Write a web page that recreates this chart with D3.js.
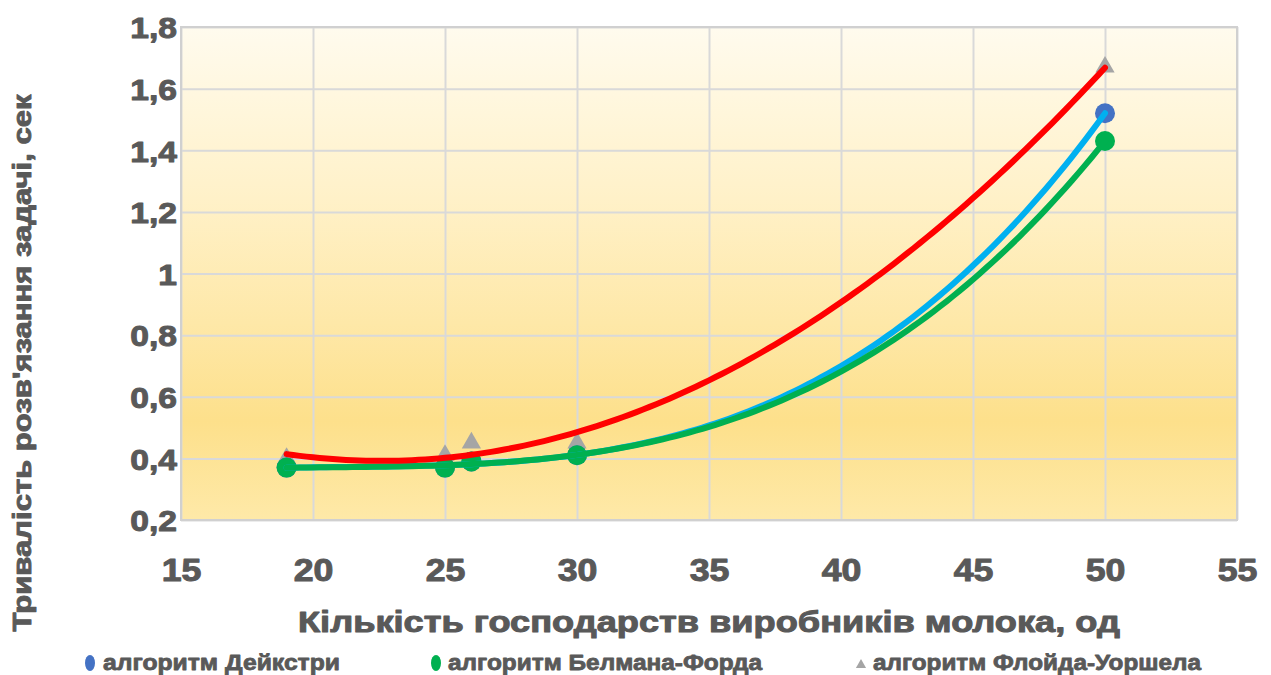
<!DOCTYPE html>
<html>
<head>
<meta charset="utf-8">
<script src="https://cdn.jsdelivr.net/npm/d3@7"></script>
<style>
  html, body { margin: 0; padding: 0; background: #ffffff; }
  svg { display: block; font-family: "Liberation Sans", Arial, sans-serif; }
</style>
</head>
<body>
<svg id="chart" width="1271" height="675"></svg>
<script>
// Number of dairy farms (x) and task solving time in seconds for each algorithm
const farmCounts = [19, 25, 26, 30, 50];
const dijkstraTimes = [0.37, 0.37, 0.39, 0.41, 1.52];
const bellmanFordTimes = [0.37, 0.37, 0.39, 0.41, 1.43];
const floydWarshallTimes = [0.40, 0.41, 0.45, 0.45, 1.67];

const seriesNames = ["алгоритм Дейкстри", "алгоритм Белмана-Форда", "алгоритм Флойда-Уоршела"];
const xTicks = [15, 20, 25, 30, 35, 40, 45, 50, 55];
const yTicks = [0.2, 0.4, 0.6, 0.8, 1.0, 1.2, 1.4, 1.6, 1.8];
const xTitle = "Кількість господарств виробників молока, од";
const yTitle = "Тривалість розв'язання задачі, сек";

const svg = d3.select("#chart");
const plot = { left: 181, right: 1237, top: 27, bottom: 520 };
const textColor = "#595959";

const x = d3.scaleLinear().domain([15, 55]).range([plot.left, plot.right]);
const y = d3.scaleLinear().domain([0.2, 1.8]).range([plot.bottom, plot.top]);

const ukr = d3.formatLocale({ decimal: ",", thousands: " ", grouping: [3], currency: ["", ""] });
const fmt = ukr.format(".1~f");

// Least-squares polynomial trendline
function polyFit(xs, ys, order) {
  const cx = 30, sx = 10;
  const n = order + 1;
  const A = Array.from({ length: n }, () => new Array(n + 1).fill(0));
  xs.forEach((xv, i) => {
    const t = (xv - cx) / sx;
    for (let r = 0; r < n; r++) {
      for (let c = 0; c < n; c++) A[r][c] += Math.pow(t, r + c);
      A[r][n] += ys[i] * Math.pow(t, r);
    }
  });
  for (let p = 0; p < n; p++) {
    let best = p;
    for (let r = p + 1; r < n; r++) if (Math.abs(A[r][p]) > Math.abs(A[best][p])) best = r;
    [A[p], A[best]] = [A[best], A[p]];
    for (let r = 0; r < n; r++) {
      if (r === p) continue;
      const f = A[r][p] / A[p][p];
      for (let c = p; c <= n; c++) A[r][c] -= f * A[p][c];
    }
  }
  const coef = A.map((row, i) => row[n] / row[i]);
  return xv => {
    const t = (xv - cx) / sx;
    return coef.reduce((s, c, i) => s + c * Math.pow(t, i), 0);
  };
}

// Heavy bold text style
function heavy(sel, size, strokeW) {
  return sel.attr("font-size", size).attr("font-weight", "bold")
    .attr("fill", textColor).attr("stroke", textColor).attr("stroke-width", strokeW)
    .attr("stroke-linejoin", "round")
    .attr("font-family", "Liberation Sans, Arial, sans-serif");
}

// Background gradient of the plot area
const defs = svg.append("defs");
const grad = defs.append("linearGradient").attr("id", "bg").attr("x1", 0).attr("y1", 0).attr("x2", 0).attr("y2", 1);
[[0, "#fffbee"], [0.35, "#fff1c8"], [0.6, "#fee8a8"], [0.8, "#fde08b"], [1, "#fee9a8"]]
  .forEach(([o, c]) => grad.append("stop").attr("offset", o).attr("stop-color", c));

svg.append("rect")
  .attr("x", plot.left).attr("y", plot.top)
  .attr("width", plot.right - plot.left).attr("height", plot.bottom - plot.top)
  .attr("fill", "url(#bg)");

// Gridlines
svg.append("g")
  .attr("transform", `translate(0,${plot.bottom})`)
  .call(d3.axisBottom(x).tickValues(xTicks).tickSize(-(plot.bottom - plot.top)).tickFormat(""))
  .call(g => g.select(".domain").remove())
  .call(g => g.selectAll("line").attr("stroke", "#d9d9d9").attr("stroke-width", 2));
svg.append("g")
  .attr("transform", `translate(${plot.left},0)`)
  .call(d3.axisLeft(y).tickValues(yTicks).tickSize(-(plot.right - plot.left)).tickFormat(""))
  .call(g => g.select(".domain").remove())
  .call(g => g.selectAll("line").attr("stroke", "#d9d9d9").attr("stroke-width", 2));

svg.append("rect")
  .attr("x", plot.left).attr("y", plot.top)
  .attr("width", plot.right - plot.left).attr("height", plot.bottom - plot.top)
  .attr("fill", "none").attr("stroke", "#d0d0d0").attr("stroke-width", 2);

// Tick labels
const xAxis = svg.append("g")
  .attr("transform", `translate(0,${plot.bottom})`)
  .call(d3.axisBottom(x).tickValues(xTicks).tickSize(0).tickFormat(d3.format("d")));
xAxis.select(".domain").remove();
heavy(xAxis.selectAll("text"), 31, 1).attr("dy", 0).attr("y", 61);

const yAxis = svg.append("g")
  .attr("transform", `translate(${plot.left},0)`)
  .call(d3.axisLeft(y).tickValues(yTicks).tickSize(0).tickPadding(4).tickFormat(fmt));
yAxis.select(".domain").remove();
heavy(yAxis.selectAll("text"), 30, 1).attr("dy", "0.36em");

// Widen glyphs horizontally
function widen(sel, k) {
  sel.each(function () {
    const w = this.getComputedTextLength();
    d3.select(this).attr("textLength", w * k).attr("lengthAdjust", "spacingAndGlyphs");
  });
}
widen(xAxis.selectAll("text"), 1.15);
widen(yAxis.selectAll("text"), 1.12);

// Markers
const triangle = d3.symbol().type(d3.symbolTriangle).size(160);
svg.append("g").selectAll("path")
  .data(farmCounts.map((d, i) => [d, floydWarshallTimes[i]]))
  .join("path")
  .attr("d", triangle)
  .attr("transform", d => `translate(${x(d[0])},${y(d[1])})`)
  .attr("fill", "#a5a5a5");

svg.append("g").selectAll("circle")
  .data(farmCounts.map((d, i) => [d, dijkstraTimes[i]]))
  .join("circle")
  .attr("cx", d => x(d[0])).attr("cy", d => y(d[1])).attr("r", 10)
  .attr("fill", "#4472c4");

svg.append("g").selectAll("circle")
  .data(farmCounts.map((d, i) => [d, bellmanFordTimes[i]]))
  .join("circle")
  .attr("cx", d => x(d[0])).attr("cy", d => y(d[1])).attr("r", 10)
  .attr("fill", "#00b050");

// Trendlines
const xMin = d3.min(farmCounts), xMax = d3.max(farmCounts);
const samples = d3.range(xMin, xMax + 0.001, 0.25);
const trends = [
  { f: polyFit(farmCounts, dijkstraTimes, 3), color: "#00b0f0" },
  { f: polyFit(farmCounts, bellmanFordTimes, 3), color: "#00b050" },
  { f: polyFit(farmCounts, floydWarshallTimes, 2), color: "#ff0000" }
];
const line = d3.line().x(d => x(d[0])).y(d => y(d[1]));
trends.forEach(t => {
  svg.append("path")
    .datum(samples.map(v => [v, t.f(v)]))
    .attr("d", line)
    .attr("fill", "none")
    .attr("stroke", t.color)
    .attr("stroke-width", 6)
    .attr("stroke-linecap", "round")
    .attr("stroke-linejoin", "round");
});

// Axis titles
heavy(svg.append("text"), 30, 1)
  .attr("x", 709).attr("y", 632)
  .attr("text-anchor", "middle")
  .text(xTitle)
  .attr("textLength", 822).attr("lengthAdjust", "spacingAndGlyphs");

heavy(svg.append("text"), 25, 0.9)
  .attr("transform", "translate(31,363) rotate(-90)")
  .attr("text-anchor", "middle")
  .text(yTitle)
  .attr("textLength", 537).attr("lengthAdjust", "spacingAndGlyphs");

// Legend
const legend = [
  { name: seriesNames[0], kind: "circle", color: "#4472c4", mx: 90, tx: 103, tw: 237 },
  { name: seriesNames[1], kind: "circle", color: "#00b050", mx: 436, tx: 448, tw: 314 },
  { name: seriesNames[2], kind: "triangle", color: "#a5a5a5", mx: 861, tx: 873, tw: 328 }
];
const lg = svg.append("g");
legend.forEach(l => {
  if (l.kind === "circle") {
    lg.append("ellipse").attr("cx", l.mx).attr("cy", 663).attr("rx", 5).attr("ry", 8).attr("fill", l.color);
  } else {
    lg.append("path").attr("d", d3.symbol().type(d3.symbolTriangle).size(45))
      .attr("transform", `translate(${l.mx},665)`).attr("fill", l.color);
  }
  heavy(lg.append("text"), 22, 0.8)
    .attr("x", l.tx).attr("y", 670)
    .text(l.name)
    .attr("textLength", l.tw).attr("lengthAdjust", "spacingAndGlyphs");
});
</script>
</body>
</html>
